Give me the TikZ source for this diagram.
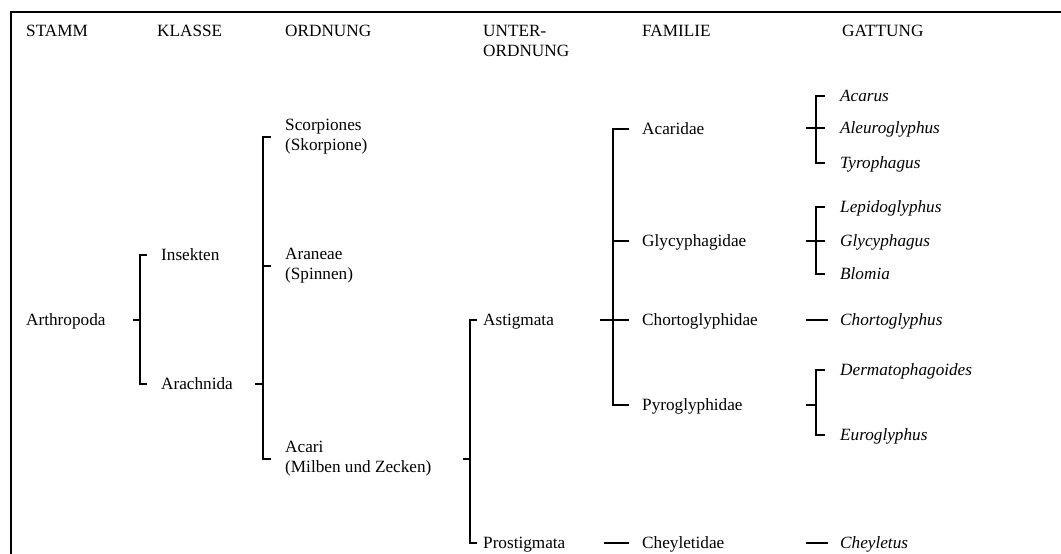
\documentclass[tikz,border=0pt]{standalone}
\usepackage{fontspec}
\setmainfont{Liberation Serif}
\begin{document}
\begin{tikzpicture}[x=1pt,y=-1pt,
  lbl/.style={anchor=west, inner sep=0pt, font=\fontsize{17.2}{20}\selectfont, text height=13pt, text depth=3pt},
  lbltwo/.style={anchor=west, inner sep=0pt, font=\fontsize{17.2}{20}\selectfont, align=left},
  hdr/.style={anchor=base west, inner sep=0pt, font=\fontsize{17.2}{20}\selectfont},
  gen/.style={lbl, font=\fontsize{17.2}{20}\selectfont\itshape},
  br/.style={line width=1.8pt, line join=miter}]
\useasboundingbox (0,0) rectangle (1061,554);
% frame
\draw[line width=2pt] (11,554) -- (11,12) -- (1061,12);
% headers
\node[hdr] (hstamm) at (26,36.5) {STAMM};
\node[hdr] (hklasse) at (157,36.5) {KLASSE};
\node[hdr] (hordnung) at (285,36.5) {ORDNUNG};
\node[lbltwo] (hunter) at (483,40.5) {UNTER-\\ORDNUNG};
\node[hdr] (hfamilie) at (642,36.5) {FAMILIE};
\node[hdr] (hgattung) at (842,36.5) {GATTUNG};
% Stamm
\node[lbl] (arth) at (26,320) {Arthropoda};
% Klasse
\node[lbl] (ins) at (161,255) {Insekten};
\node[lbl] (ara) at (161,384) {Arachnida};
% Ordnung
\node[lbltwo] (scor) at (285,137) {Scorpiones\\(Skorpione)};
\node[lbltwo] (aran) at (285,266) {Araneae\\(Spinnen)};
\node[lbltwo] (acari) at (285,459) {Acari\\(Milben und Zecken)};
% Unterordnung
\node[lbl] (asti) at (483,320) {Astigmata};
\node[lbl] (prosti) at (483,543) {Prostigmata};
% Familie
\node[lbl] (acar) at (642,129) {Acaridae};
\node[lbl] (glyc) at (642,241) {Glycyphagidae};
\node[lbl] (chor) at (642,320) {Chortoglyphidae};
\node[lbl] (pyro) at (642,405) {Pyroglyphidae};
\node[lbl] (chey) at (642,543) {Cheyletidae};
% Gattung
\node[gen] (gacarus) at (840,96) {Acarus};
\node[gen] (galeu) at (840,128) {Aleuroglyphus};
\node[gen] (gtyro) at (840,163) {Tyrophagus};
\node[gen] (glepi) at (840,207) {Lepidoglyphus};
\node[gen] (gglyc) at (840,241) {Glycyphagus};
\node[gen] (gblom) at (840,274) {Blomia};
\node[gen] (gchor) at (840,320) {Chortoglyphus};
\node[gen] (gderm) at (840,370) {Dermatophagoides};
\node[gen] (geuro) at (840,435) {Euroglyphus};
\node[gen] (gchey) at (840,543) {Cheyletus};
% bracket x positions
\coordinate (p1) at (133,0); \coordinate (v1) at (140,0); \coordinate (c1) at (147,0);
\coordinate (p2) at (255,0); \coordinate (v2) at (263,0); \coordinate (c2) at (271,0);
\coordinate (p3) at (463,0); \coordinate (v3) at (470,0); \coordinate (c3) at (477,0);
\coordinate (p4) at (600,0); \coordinate (v4) at (613,0); \coordinate (c4) at (629,0);
\coordinate (d4) at (604,0);
\coordinate (p5) at (806,0); \coordinate (v5) at (816,0); \coordinate (c5) at (825,0);
\coordinate (d5) at (828,0);
% Arthropoda -> Klasse
\draw[br] (p1 |- arth.west) -- (v1 |- arth.west);
\draw[br] (c1 |- ins.west) -| (v1 |- ara.west) -- (c1 |- ara.west);
% Arachnida -> Ordnung
\draw[br] (p2 |- ara.west) -- (v2 |- ara.west);
\draw[br] (c2 |- scor.west) -| (v2 |- acari.west) -- (c2 |- acari.west);
\draw[br] (v2 |- aran.west) -- (c2 |- aran.west);
% Acari -> Unterordnung
\draw[br] (p3 |- acari.west) -- (v3 |- acari.west);
\draw[br] (c3 |- asti.west) -| (v3 |- prosti.west) -- (c3 |- prosti.west);
% Astigmata -> Familie
\draw[br] (p4 |- asti.west) -- (v4 |- asti.west);
\draw[br] (c4 |- acar.west) -| (v4 |- pyro.west) -- (c4 |- pyro.west);
\draw[br] (v4 |- glyc.west) -- (c4 |- glyc.west);
\draw[br] (v4 |- chor.west) -- (c4 |- chor.west);
% Prostigmata -> Cheyletidae
\draw[br] (d4 |- chey.west) -- (c4 |- chey.west);
% Acaridae -> genera
\draw[br] (c5 |- gacarus.west) -| (v5 |- gtyro.west) -- (c5 |- gtyro.west);
\draw[br] (p5 |- galeu.west) -- (c5 |- galeu.west);
% Glycyphagidae -> genera
\draw[br] (c5 |- glepi.west) -| (v5 |- gblom.west) -- (c5 |- gblom.west);
\draw[br] (p5 |- gglyc.west) -- (c5 |- gglyc.west);
% Chortoglyphidae -> Chortoglyphus
\draw[br] (p5 |- gchor.west) -- (d5 |- gchor.west);
% Pyroglyphidae -> genera
\draw[br] (c5 |- gderm.west) -| (v5 |- geuro.west) -- (c5 |- geuro.west);
\draw[br] (p5 |- pyro.west) -- (v5 |- pyro.west);
% Cheyletidae -> Cheyletus
\draw[br] (p5 |- gchey.west) -- (d5 |- gchey.west);
\end{tikzpicture}
\end{document}
